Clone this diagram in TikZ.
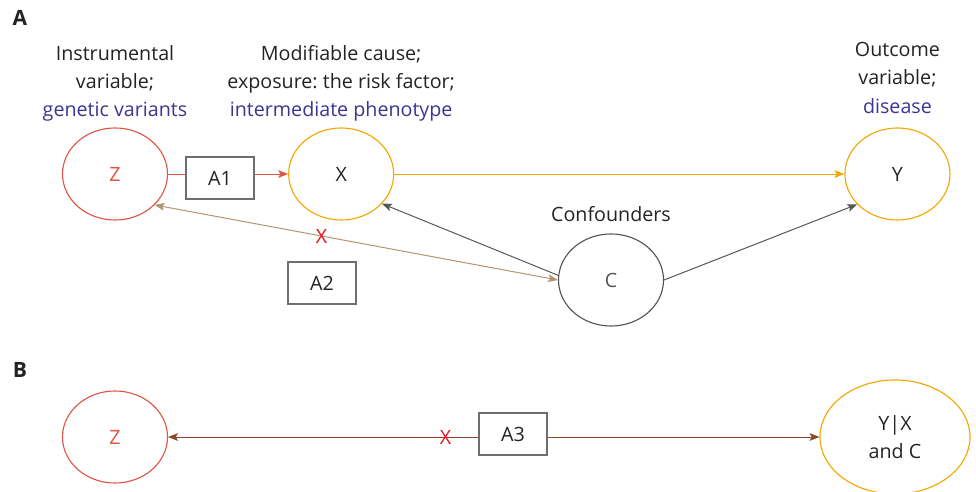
\documentclass[tikz,border=0pt]{standalone}
\usepackage{fontspec}
\setmainfont{Open Sans}
\frenchspacing
\usetikzlibrary{positioning, shapes.geometric, arrows.meta}

\definecolor{zred}{RGB}{224,86,70}
\definecolor{zorange}{RGB}{240,168,0}
\definecolor{zpurple}{RGB}{62,52,145}
\definecolor{ztan}{RGB}{178,148,112}
\definecolor{zgray}{RGB}{85,85,85}
\definecolor{zbrown}{RGB}{140,72,40}
\definecolor{xred}{RGB}{230,20,30}
\definecolor{darktext}{RGB}{35,35,35}
\definecolor{boxgray}{RGB}{110,110,110}

\tikzset{
    >={Stealth[length=7pt, width=5.5pt, inset=1.5pt]},
    var/.style={ellipse, draw, line width=0.8pt, inner sep=0pt,
        minimum width=2.625cm, minimum height=2.3cm},
    instr/.style={draw=boxgray, line width=0.8pt, inner sep=0pt,
        minimum width=1.7cm, minimum height=1.05cm},
    desc/.style={align=center, text=darktext},
    cross/.style={text=xred, inner sep=0pt},
    panel/.style={font=\bfseries\fontsize{15}{18}\selectfont, text=darktext},
    link/.style={line width=0.7pt, ->},
}

\begin{document}
\begin{tikzpicture}[x=0.025cm, y=-0.025cm,
    font=\fontsize{14}{20}\selectfont, text=darktext]
    \useasboundingbox (0,0) rectangle (976,492);

    \node[panel] (pA) at (20,18) {A};
    \node[panel] (pB) at (20,370) {B};

    % panel A
    \node[var, draw=zred, text=zred] (Z) at (115,174) {Z};
    \node[var, draw=zorange, right=3cm of Z] (X) {X};
    \node[var, draw=zorange, right=11.25cm of X] (Y) {Y};
    \node[var, draw=zgray, text=zgray] (C) at (611,280) {C};

    \node[instr] (A1) at (220,178) {A1};
    \node[instr] (A2) at (322,283) {A2};

    \node[desc, above=1pt of Z] (lZ)
        {Instrumental\\variable;\\\textcolor{zpurple}{genetic variants}};
    \node[desc, above=1pt of X] (lX)
        {Modifiable cause;\\exposure: the risk factor;\\\textcolor{zpurple}{intermediate phenotype}};
    \node[desc, above=6.5pt of Y] (lY)
        {Outcome\\variable;\\\textcolor{zpurple}{disease}};
    \node[desc] (lC) at (611,214) {Confounders};

    \draw[line width=0.7pt, zred] (Z.east) -- (Z.east -| A1.west);
    \draw[link, zred] (A1.east |- X.west) -- (X.west);
    \draw[link, zorange] (X) -- (Y);
    \draw[link, zgray] (C.175) -- (X.-36);
    \draw[link, zgray] (C.east) -- (Y.-143);
    \draw[ztan, line width=0.7pt, <->] (Z.-38) -- (C.west)
    node[cross, pos=0.414] (cut1) {X};

    % panel B
    \node[var, draw=zred, text=zred] (Zb) at (115,437) {Z};
    \node[var, draw=zorange, align=center,
        minimum width=3.75cm, minimum height=2.85cm] (YXC) at (895,437) {Y|X\\and C};
    \node[instr] (A3) at (513,434) {A3};

    \draw[link, zbrown] (A3.west |- Zb.east) -- (Zb.east)
    node[cross, pos=0.106] (cut2) {X};
    \draw[link, zbrown] (A3.east |- YXC.west) -- (YXC.west);
\end{tikzpicture}
\end{document}
